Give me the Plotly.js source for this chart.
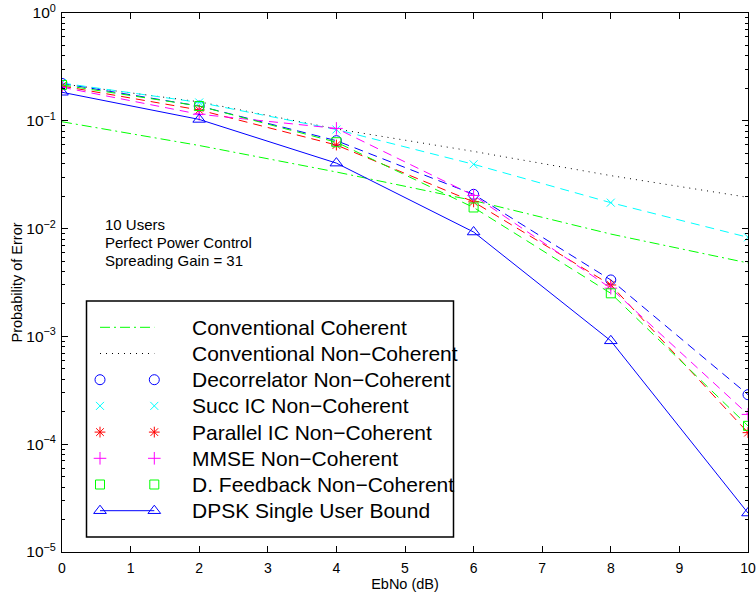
<!DOCTYPE html>
<html>
<head>
<meta charset="utf-8">
<script src="https://cdn.plot.ly/plotly-3.0.1.min.js"></script>
<style>html,body{margin:0;padding:0;background:#fff;}#chart{width:756px;height:597px;}</style>
</head>
<body>
<div id="chart"></div>
<script>
// ---- data ----
var ebno = [0, 2, 4, 6, 8, 10];
var convCoherent    = [0.098, 0.059, 0.0335, 0.0182, 0.0089, 0.0048];
var convNonCoherent = [0.22, 0.15, 0.084, 0.052, 0.031, 0.0195];
var decorrelator    = [0.222, 0.137, 0.0654, 0.0208, 0.00334, 2.88e-4];
var succIC          = [0.224, 0.148, 0.083, 0.0395, 0.0174, 0.0083];
var parallelIC      = [0.21, 0.126, 0.0596, 0.0177, 0.0030, 1.28e-4];
var mmse            = [0.205, 0.115, 0.085, 0.0203, 0.0028, 1.89e-4];
var dFeedback       = [0.215, 0.137, 0.0633, 0.0157, 0.00251, 1.48e-4];
var dpskBound       = [0.184, 0.103, 0.0405, 0.0093, 0.00091, 2.3e-5];

var seriesNames = ['Conventional Coherent', 'Conventional Non\u2212Coherent', 'Decorrelator Non\u2212Coherent',
  'Succ IC Non\u2212Coherent', 'Parallel IC Non\u2212Coherent', 'MMSE Non\u2212Coherent',
  'D. Feedback Non\u2212Coherent', 'DPSK Single User Bound'];
var yExponents = [0, -1, -2, -3, -4, -5];
var xTickVals = [0,1,2,3,4,5,6,7,8,9,10];
var noteLines = ['10 Users', 'Perfect Power Control', 'Spreading Gain = 31'];

// ---- styles ----
var FONT = 'Liberation Sans, Arial, Helvetica, sans-serif';
var dashed = '9px,6px';
var styles = [
  {data: convCoherent, color: 'rgb(0,255,0)', dash: '10px,4px,2px,4px', marker: null, legendLine: true},
  {data: convNonCoherent, color: 'rgb(0,0,0)', dash: '1px,5px', marker: null, legendLine: true},
  {data: decorrelator, color: 'rgb(0,0,255)', dash: dashed, marker: 'circle-open', size: 10},
  {data: succIC, color: 'rgb(0,255,255)', dash: dashed, marker: 'x-thin-open', size: 8},
  {data: parallelIC, color: 'rgb(255,0,0)', dash: dashed, marker: 'asterisk-open', size: 9},
  {data: mmse, color: 'rgb(255,0,255)', dash: dashed, marker: 'cross-thin-open', size: 9},
  {data: dFeedback, color: 'rgb(0,255,0)', dash: dashed, marker: 'square-open', size: 9},
  {data: dpskBound, color: 'rgb(0,0,255)', dash: 'solid', marker: 'triangle-up-open', size: 11, legendLine: true}
];

function markerOf(s) {
  return {symbol: s.marker, size: s.size, color: s.color, line: {color: s.color, width: 1}};
}

var traces = [];
styles.forEach(function(s, i) {
  traces.push({
    x: ebno, y: s.data, type: 'scatter', mode: 'lines',
    line: {color: s.color, width: 1, dash: s.dash},
    showlegend: false, hoverinfo: 'skip', name: seriesNames[i]
  });
  if (s.marker) {
    traces.push({
      x: ebno, y: s.data, type: 'scatter', mode: 'markers',
      marker: markerOf(s), showlegend: false, hoverinfo: 'skip', name: seriesNames[i]
    });
  }
});

// ---- custom MATLAB-style legend on a pixel overlay axis ----
var L = {x0: 86.5, x1: 453.5, y0: 301, y1: 537, row0: 327.3, step: 26.2, m0: 100, m1: 154.3, tx: 190};
var annotations = [];
styles.forEach(function(s, i) {
  var ry = L.row0 + i * L.step;
  var mode = s.legendLine ? (s.marker ? 'lines+markers' : 'lines') : 'markers';
  var t = {
    x: [L.m0, L.m1], y: [ry, ry], xaxis: 'x2', yaxis: 'y2', type: 'scatter', mode: mode,
    line: {color: s.color, width: 1, dash: s.dash},
    showlegend: false, hoverinfo: 'skip'
  };
  if (s.marker) t.marker = markerOf(s);
  traces.push(t);
  annotations.push({
    xref: 'x2', yref: 'y2', x: L.tx, y: ry, xanchor: 'left', yanchor: 'middle',
    text: seriesNames[i], showarrow: false, font: {family: FONT, size: 21, color: '#000'}
  });
});
noteLines.forEach(function(t, i) {
  annotations.push({
    xref: 'x2', yref: 'y2', x: 103, y: 224 + i * 18.3, xanchor: 'left', yanchor: 'middle',
    text: t, showarrow: false, font: {family: FONT, size: 15, color: '#000'}
  });
});

var yTickVals = yExponents.map(function(e) { return Math.pow(10, e); });
var yTickText = yExponents.map(function(e) { return '10<sup>' + (e < 0 ? '\u2212' + (-e) : e) + '</sup>'; });
var yMinor = [];
yExponents.slice(1).forEach(function(e) {
  for (var k = 2; k <= 9; k++) yMinor.push(k * Math.pow(10, e));
});

var layout = {
  width: 756, height: 597,
  margin: {l: 62, r: 8, t: 13, b: 45, pad: 0},
  paper_bgcolor: '#fff', plot_bgcolor: '#fff',
  font: {family: FONT, size: 14, color: '#000'},
  showlegend: false,
  xaxis: {
    range: [0, 10], tickmode: 'array', tickvals: xTickVals, ticks: 'inside', ticklen: 6, tickcolor: '#000',
    showline: true, linecolor: '#000', linewidth: 1, mirror: 'ticks', showgrid: false, zeroline: false,
    tickfont: {family: FONT, size: 14}, ticklabelstandoff: 3,
    title: {text: 'EbNo (dB)', font: {family: FONT, size: 14.5}, standoff: 0}
  },
  yaxis: {
    type: 'log', range: [-5, 0], tickmode: 'array', tickvals: yTickVals, ticktext: yTickText,
    ticks: 'inside', ticklen: 6, tickcolor: '#000',
    minor: {tickmode: 'array', tickvals: yMinor, ticks: 'inside', ticklen: 3, tickcolor: '#000'},
    showline: true, linecolor: '#000', linewidth: 1, mirror: 'ticks', showgrid: false, zeroline: false,
    tickfont: {family: FONT, size: 15.5}, ticklabelstandoff: 2,
    title: {text: 'Probability of Error', font: {family: FONT, size: 14.5}, standoff: 0}
  },
  xaxis2: {domain: [0, 1], range: [62, 748], visible: false, anchor: 'y2', overlaying: 'x', fixedrange: true},
  yaxis2: {domain: [0, 1], range: [552, 13], visible: false, anchor: 'x2', overlaying: 'y', fixedrange: true},
  shapes: [{
    type: 'rect', xref: 'x2', yref: 'y2', x0: L.x0, x1: L.x1, y0: L.y0, y1: L.y1,
    line: {color: '#000', width: 1.5}, fillcolor: 'rgba(0,0,0,0)', layer: 'below'
  }],
  annotations: annotations
};

Plotly.newPlot('chart', traces, layout, {staticPlot: true, displayModeBar: false});
</script>
</body>
</html>
